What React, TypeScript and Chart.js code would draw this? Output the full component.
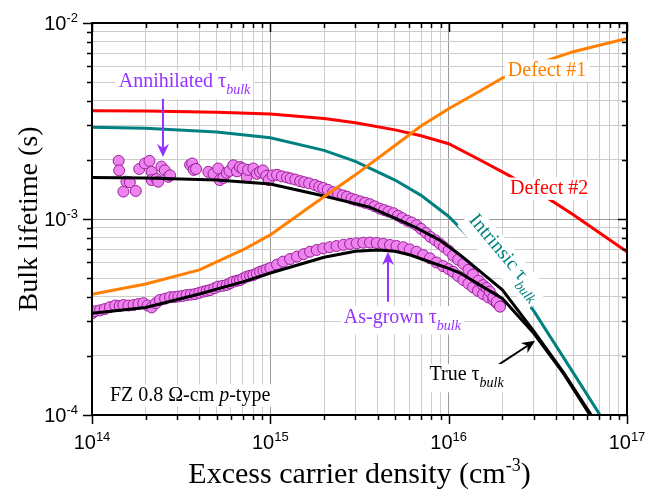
import React, { useEffect, useRef } from 'react';
import { Chart, registerables } from 'chart.js';

Chart.register(...registerables);

const SERIF = '"Liberation Serif", "Times New Roman", Times, serif';
const SANS = '"Liberation Sans", Arial, Helvetica, sans-serif';

const X_MIN = 1e14;
const X_MAX = 1e17;
const Y_MIN = 1e-4;
const Y_MAX = 1e-2;

const xTickExponents = ['14', '15', '16', '17'];
const yTickExponents = ['-4', '-3', '-2'];

// Defect #1 (orange)
const defect1X = [1e14, 2e14, 4e14, 7e14, 1e15, 1.5e15, 2e15, 3e15, 5e15, 7e15, 1e16, 1.5e16, 2e16, 3e16, 5e16, 7e16, 1e17];
const defect1Y = [4.13e-4, 4.66e-4, 5.5e-4, 6.95e-4, 8.3e-4, 1.08e-3, 1.3e-3, 1.68e-3, 2.37e-3, 2.98e-3, 3.65e-3, 4.5e-3, 5.24e-3, 6.12e-3, 7.14e-3, 7.7e-3, 8.35e-3];

// Defect #2 (red)
const defect2X = [1e14, 2e14, 5e14, 1e15, 2e15, 3e15, 5e15, 7e15, 1e16, 1.5e16, 2e16, 3e16, 5e16, 7e16, 1e17];
const defect2Y = [3.57e-3, 3.56e-3, 3.5e-3, 3.43e-3, 3.26e-3, 3.1e-3, 2.85e-3, 2.66e-3, 2.42e-3, 2.0e-3, 1.74e-3, 1.42e-3, 1.05e-3, 8.5e-4, 6.8e-4];

// Intrinsic tau bulk (teal)
const intrinsicX = [1e14, 2e14, 5e14, 1e15, 2e15, 3e15, 5e15, 7e15, 1e16, 1.5e16, 2e16, 3e16, 5e16, 7.06e16];
const intrinsicY = [2.94e-3, 2.9e-3, 2.78e-3, 2.6e-3, 2.24e-3, 1.97e-3, 1.58e-3, 1.32e-3, 1.03e-3, 7.1e-4, 5.4e-4, 3.4e-4, 1.64e-4, 1.0e-4];

// True tau bulk fit, annihilated state (black, upper)
const trueUpperX = [1e14, 2e14, 5e14, 1e15, 2e15, 3.6e15, 5e15, 6.6e15, 8.9e15, 1.16e16, 1.5e16, 2e16, 3e16, 4.4e16, 6.3e16];
const trueUpperY = [1.63e-3, 1.62e-3, 1.58e-3, 1.51e-3, 1.31e-3, 1.15e-3, 1.01e-3, 9.0e-4, 7.8e-4, 6.55e-4, 5.4e-4, 4.35e-4, 2.68e-4, 1.65e-4, 1.0e-4];

// True tau bulk fit, as-grown state (black, lower)
const trueLowerX = [1e14, 2e14, 4e14, 7e14, 1e15, 2e15, 3e15, 4e15, 5e15, 6.1e15, 8e15, 1e16, 1.16e16, 1.5e16, 2e16, 3e16, 4.4e16, 6.2e16];
const trueLowerY = [3.3e-4, 3.54e-4, 4.14e-4, 4.78e-4, 5.3e-4, 6.38e-4, 6.85e-4, 6.95e-4, 6.85e-4, 6.55e-4, 6.0e-4, 5.6e-4, 5.3e-4, 4.6e-4, 3.93e-4, 2.61e-4, 1.63e-4, 1.0e-4];

// Annihilated tau bulk measurements (markers)
const annihilatedX = [
  1.41e14, 1.42e14, 1.50e14, 1.56e14, 1.63e14, 1.76e14, 1.84e14, 1.98e14, 2.10e14, 2.16e14, 2.16e14, 2.30e14, 2.35e14, 2.45e14, 2.56e14, 2.68e14, 2.74e14,
  3.55e14, 3.65e14, 3.72e14, 3.83e14,
  4.49e14, 4.8e14, 5.1e14, 5.2e14, 5.45e14, 5.69e14, 5.9e14, 6.2e14, 6.5e14, 6.76e14, 7.0e14, 7.37e14, 7.5e14, 8.03e14, 8.4e14, 8.75e14, 9.1e14, 9.5e14, 9.8e14,
  1.03e15, 1.09e15, 1.16e15, 1.24e15, 1.3e15, 1.38e15, 1.47e15, 1.55e15, 1.65e15, 1.78e15, 1.88e15, 1.98e15,
  2.1e15, 2.25e15, 2.4e15, 2.55e15, 2.69e15, 2.85e15, 3.0e15, 3.2e15, 3.4e15, 3.62e15, 3.85e15,
  4.1e15, 4.35e15, 4.6e15, 4.9e15, 5.2e15, 5.5e15, 5.85e15, 6.2e15, 6.6e15,
  7.0e15, 7.45e15, 7.9e15, 8.4e15, 8.9e15, 9.4e15,
  1.0e16, 1.06e16, 1.13e16, 1.21e16, 1.29e16, 1.37e16, 1.47e16, 1.56e16, 1.63e16, 1.7e16, 1.78e16, 1.86e16, 1.94e16,
];
const annihilatedY = [
  1.98e-3, 1.77e-3, 1.38e-3, 1.55e-3, 1.54e-3, 1.39e-3, 1.80e-3, 1.92e-3, 1.98e-3, 1.74e-3, 1.58e-3, 1.60e-3, 1.55e-3, 1.85e-3, 1.77e-3, 1.64e-3, 1.67e-3,
  1.89e-3, 1.92e-3, 1.78e-3, 1.80e-3,
  1.74e-3, 1.70e-3, 1.81e-3, 1.58e-3, 1.62e-3, 1.72e-3, 1.76e-3, 1.88e-3, 1.75e-3, 1.84e-3, 1.81e-3, 1.64e-3, 1.78e-3, 1.81e-3, 1.70e-3, 1.74e-3, 1.77e-3, 1.66e-3, 1.58e-3,
  1.67e-3, 1.68e-3, 1.65e-3, 1.63e-3, 1.61e-3, 1.59e-3, 1.56e-3, 1.54e-3, 1.52e-3, 1.49e-3, 1.46e-3, 1.44e-3,
  1.41e-3, 1.37e-3, 1.34e-3, 1.32e-3, 1.30e-3, 1.27e-3, 1.25e-3, 1.23e-3, 1.21e-3, 1.19e-3, 1.16e-3,
  1.13e-3, 1.11e-3, 1.09e-3, 1.07e-3, 1.04e-3, 1.01e-3, 9.8e-4, 9.6e-4, 9.3e-4,
  8.9e-4, 8.5e-4, 8.1e-4, 7.8e-4, 7.5e-4, 7.2e-4,
  6.9e-4, 6.5e-4, 6.2e-4, 5.9e-4, 5.5e-4, 5.2e-4, 4.85e-4, 4.6e-4, 4.45e-4, 4.26e-4, 4.0e-4, 3.78e-4, 3.57e-4,
];

// As-grown tau bulk measurements (markers)
const asGrownX = [
  1.0e14, 1.04e14, 1.11e14, 1.18e14, 1.26e14, 1.35e14, 1.43e14, 1.50e14, 1.60e14, 1.71e14, 1.82e14, 1.94e14,
  2.05e14, 2.16e14, 2.28e14, 2.40e14, 2.57e14, 2.74e14, 2.90e14, 3.05e14, 3.22e14, 3.39e14, 3.58e14, 3.78e14,
  4.0e14, 4.21e14, 4.4e14, 4.59e14, 4.85e14, 5.1e14, 5.4e14, 5.69e14, 5.95e14, 6.2e14, 6.5e14, 6.76e14,
  7.05e14, 7.37e14, 7.7e14, 8.03e14, 8.4e14, 8.75e14, 9.15e14, 9.55e14,
  1.0e15, 1.09e15, 1.18e15, 1.29e15, 1.41e15, 1.54e15, 1.67e15, 1.82e15, 1.98e15,
  2.15e15, 2.35e15, 2.57e15, 2.8e15, 3.05e15, 3.32e15, 3.62e15, 3.95e15,
  4.3e15, 4.69e15, 5.1e15, 5.57e15, 6.05e15, 6.6e15, 7.2e15, 7.85e15, 8.55e15, 9.3e15,
  1.0e16, 1.06e16, 1.13e16, 1.21e16, 1.29e16, 1.37e16, 1.46e16, 1.56e16, 1.67e16, 1.78e16, 1.86e16, 1.94e16,
];
const asGrownY = [
  3.30e-4, 3.38e-4, 3.42e-4, 3.47e-4, 3.55e-4, 3.62e-4, 3.60e-4, 3.64e-4, 3.62e-4, 3.64e-4, 3.68e-4, 3.72e-4,
  3.62e-4, 3.54e-4, 3.72e-4, 3.86e-4, 3.92e-4, 3.99e-4, 4.00e-4, 4.02e-4, 4.05e-4, 4.09e-4, 4.11e-4, 4.14e-4,
  4.20e-4, 4.26e-4, 4.30e-4, 4.34e-4, 4.43e-4, 4.52e-4, 4.56e-4, 4.61e-4, 4.70e-4, 4.79e-4, 4.84e-4, 4.88e-4,
  4.98e-4, 5.08e-4, 5.13e-4, 5.18e-4, 5.28e-4, 5.38e-4, 5.45e-4, 5.53e-4,
  5.62e-4, 5.85e-4, 6.06e-4, 6.25e-4, 6.43e-4, 6.62e-4, 6.81e-4, 6.95e-4, 7.08e-4,
  7.18e-4, 7.28e-4, 7.38e-4, 7.46e-4, 7.52e-4, 7.57e-4, 7.58e-4, 7.55e-4,
  7.47e-4, 7.37e-4, 7.28e-4, 7.18e-4, 7.0e-4, 6.81e-4, 6.55e-4, 6.3e-4, 6.0e-4, 5.75e-4,
  5.55e-4, 5.38e-4, 5.12e-4, 4.88e-4, 4.68e-4, 4.48e-4, 4.30e-4, 4.14e-4, 3.98e-4, 3.86e-4, 3.72e-4, 3.60e-4,
];

const COLORS = {
  orange: '#ff8000',
  red: '#ff0000',
  teal: '#008080',
  black: '#000000',
  purple: '#9632ff',
  markerFill: '#ee82ee',
  markerEdge: '#99209a',
  gridMajor: '#999999',
  gridMinor: '#cdcdcd',
};

type Run = { t: string; s?: 'it' | 'sub' | 'sup' };
type Label = { runs: Run[]; x: number; y: number; color: string; align: 'left' | 'center'; rot?: number; middle?: boolean };
type Arrow = { x1: number; y1: number; x2: number; y2: number; color: string };

const labels: Label[] = [
  { runs: [{ t: 'Annihilated τ' }, { t: 'bulk', s: 'sub' }], x: 3.3e14, y: 4.71e-3, color: COLORS.purple, align: 'center' },
  { runs: [{ t: 'As-grown τ' }, { t: 'bulk', s: 'sub' }], x: 5.5e15, y: 2.96e-4, color: COLORS.purple, align: 'center' },
  { runs: [{ t: 'Defect #1' }], x: 3.56e16, y: 5.37e-3, color: COLORS.orange, align: 'center' },
  { runs: [{ t: 'Defect #2' }], x: 3.66e16, y: 1.34e-3, color: COLORS.red, align: 'center' },
  { runs: [{ t: 'Intrinsic τ' }, { t: 'bulk', s: 'sub' }], x: 2.1e16, y: 6.47e-4, color: COLORS.teal, align: 'center', rot: 50, middle: true },
  { runs: [{ t: 'True τ' }, { t: 'bulk', s: 'sub' }], x: 1.26e16, y: 1.5e-4, color: COLORS.black, align: 'center' },
  { runs: [{ t: 'FZ 0.8 Ω-cm ' }, { t: 'p', s: 'it' }, { t: '-type' }], x: 1.26e14, y: 1.18e-4, color: COLORS.black, align: 'left' },
];

const arrows: Arrow[] = [
  { x1: 2.5e14, y1: 4.3e-3, x2: 2.5e14, y2: 2.07e-3, color: COLORS.purple },
  { x1: 4.57e15, y1: 3.78e-4, x2: 4.57e15, y2: 6.79e-4, color: COLORS.purple },
  { x1: 1.79e16, y1: 1.74e-4, x2: 3.05e16, y2: 2.39e-4, color: COLORS.black },
];

function buildLogTicks(lo: number, hi: number): number[] {
  const out: number[] = [];
  for (let d = lo; d < hi; d++) {
    for (let m = 1; m <= 9; m++) out.push(m * Math.pow(10, d));
  }
  out.push(Math.pow(10, hi));
  return out;
}

function isMajor(v: number): boolean {
  const l = Math.log10(v);
  return Math.abs(l - Math.round(l)) < 1e-6;
}

const xTicks = buildLogTicks(Math.round(Math.log10(X_MIN)), Math.round(Math.log10(X_MAX)));
const yTicks = buildLogTicks(Math.round(Math.log10(Y_MIN)), Math.round(Math.log10(Y_MAX)));

function drawRuns(ctx: CanvasRenderingContext2D, runs: Run[], x: number, y: number, color: string, align: 'left' | 'center', rot = 0, middle = false, size = 20, bg = true) {
  ctx.save();
  ctx.translate(x, y);
  if (rot) ctx.rotate((rot * Math.PI) / 180);
  const parts = runs.map((r) => {
    const sub = r.s === 'sub';
    const sup = r.s === 'sup';
    const it = r.s === 'it' || sub;
    const sz = sub ? size * 0.7 : sup ? size * 0.6 : size;
    const font = `${it ? 'italic ' : ''}${sz}px ${SERIF}`;
    ctx.font = font;
    return { t: r.t, font, w: ctx.measureText(r.t).width, dy: sub ? size * 0.35 : sup ? -size * 0.4 : 0 };
  });
  const W = parts.reduce((a, p) => a + p.w, 0);
  const hasSub = parts.some((p) => p.dy > 0);
  let cx = align === 'center' ? -W / 2 : 0;
  const by = middle ? size * 0.3 : 0;
  if (bg) {
    const top = by - size * 0.78;
    const bot = by + size * 0.24 + (hasSub ? size * 0.3 : 0);
    ctx.fillStyle = '#ffffff';
    ctx.fillRect(cx - 3, top - 1, W + 6, bot - top + 2);
  }
  ctx.fillStyle = color;
  ctx.textAlign = 'left';
  ctx.textBaseline = 'alphabetic';
  for (const p of parts) {
    ctx.font = p.font;
    ctx.fillText(p.t, cx, by + p.dy);
    cx += p.w;
  }
  ctx.restore();
}

function drawArrow(ctx: CanvasRenderingContext2D, x1: number, y1: number, x2: number, y2: number, color: string) {
  const head = 13;
  const hw = 6;
  const ang = Math.atan2(y2 - y1, x2 - x1);
  const c = Math.cos(ang);
  const s = Math.sin(ang);
  const bx = x2 - head * c;
  const by = y2 - head * s;
  ctx.save();
  ctx.strokeStyle = color;
  ctx.fillStyle = color;
  ctx.lineWidth = 2;
  ctx.beginPath();
  ctx.moveTo(x1, y1);
  ctx.lineTo(bx + 4 * c, by + 4 * s);
  ctx.stroke();
  ctx.beginPath();
  ctx.moveTo(x2, y2);
  ctx.lineTo(bx + hw * s, by - hw * c);
  ctx.lineTo(bx + 4 * c, by + 4 * s);
  ctx.lineTo(bx - hw * s, by + hw * c);
  ctx.closePath();
  ctx.fill();
  ctx.restore();
}

const decorPlugin = {
  id: 'decor',
  afterDatasetsDraw(chart: any) {
    const ctx: CanvasRenderingContext2D = chart.ctx;
    const xs = chart.scales.x;
    const ys = chart.scales.y;
    for (const a of arrows) {
      drawArrow(ctx, xs.getPixelForValue(a.x1), ys.getPixelForValue(a.y1), xs.getPixelForValue(a.x2), ys.getPixelForValue(a.y2), a.color);
    }
    for (const l of labels) {
      drawRuns(ctx, l.runs, xs.getPixelForValue(l.x), ys.getPixelForValue(l.y), l.color, l.align, l.rot || 0, !!l.middle);
    }
  },
  afterDraw(chart: any) {
    const ctx: CanvasRenderingContext2D = chart.ctx;
    const { left, right, top, bottom } = chart.chartArea;
    const xs = chart.scales.x;
    const ys = chart.scales.y;
    ctx.save();
    // tick marks
    ctx.strokeStyle = '#000';
    ctx.lineWidth = 1.5;
    ctx.beginPath();
    for (const v of xTicks) {
      const px = Math.round(xs.getPixelForValue(v)) + 0.5;
      const len = isMajor(v) ? 9 : 5;
      ctx.moveTo(px, bottom);
      ctx.lineTo(px, bottom + len);
      ctx.moveTo(px, top);
      ctx.lineTo(px, top + len);
    }
    for (const v of yTicks) {
      const py = Math.round(ys.getPixelForValue(v)) + 0.5;
      const len = isMajor(v) ? 9 : 5;
      ctx.moveTo(left, py);
      ctx.lineTo(left - len, py);
      ctx.moveTo(right, py);
      ctx.lineTo(right - len, py);
    }
    ctx.stroke();
    // frame
    ctx.lineWidth = 2;
    ctx.strokeRect(left, top, right - left, bottom - top);

    // tick labels
    ctx.fillStyle = '#000';
    ctx.textAlign = 'left';
    ctx.textBaseline = 'alphabetic';
    for (const e of xTickExponents) {
      const px = xs.getPixelForValue(Math.pow(10, Number(e)));
      ctx.font = `20px ${SANS}`;
      const w1 = ctx.measureText('10').width;
      ctx.font = `13px ${SANS}`;
      const w2 = ctx.measureText(e).width;
      const start = px - (w1 + w2) / 2;
      ctx.font = `20px ${SANS}`;
      ctx.fillText('10', start, bottom + 34);
      ctx.font = `13px ${SANS}`;
      ctx.fillText(e, start + w1, bottom + 26);
    }
    for (const e of yTickExponents) {
      const py = ys.getPixelForValue(Math.pow(10, Number(e)));
      ctx.font = `20px ${SANS}`;
      const w1 = ctx.measureText('10').width;
      ctx.font = `13px ${SANS}`;
      const w2 = ctx.measureText(e).width;
      const start = left - 14 - (w1 + w2);
      ctx.font = `20px ${SANS}`;
      ctx.fillText('10', start, py + 7);
      ctx.font = `13px ${SANS}`;
      ctx.fillText(e, start + w1, py - 1);
    }

    // axis titles
    const xsize = 30;
    ctx.font = `${xsize}px ${SERIF}`;
    const xt1 = 'Excess carrier density (cm';
    const xt2 = '-3';
    const xt3 = ')';
    const w1 = ctx.measureText(xt1).width;
    const w3 = ctx.measureText(xt3).width;
    ctx.font = `${xsize * 0.6}px ${SERIF}`;
    const w2 = ctx.measureText(xt2).width;
    const cx = (left + right) / 2;
    let sx = cx - (w1 + w2 + w3) / 2;
    const base = bottom + 68;
    ctx.font = `${xsize}px ${SERIF}`;
    ctx.fillText(xt1, sx, base);
    sx += w1;
    ctx.font = `${xsize * 0.6}px ${SERIF}`;
    ctx.fillText(xt2, sx, base - 12);
    sx += w2;
    ctx.font = `${xsize}px ${SERIF}`;
    ctx.fillText(xt3, sx, base);

    ctx.save();
    ctx.translate(left - 55, (top + bottom) / 2);
    ctx.rotate(-Math.PI / 2);
    ctx.textAlign = 'center';
    ctx.font = `28px ${SERIF}`;
    ctx.fillText('Bulk lifetime (s)', 0, 0);
    ctx.restore();

    ctx.restore();
  },
};

function pts(xs: number[], ys: number[]) {
  return xs.map((x, i) => ({ x, y: ys[i] }));
}

export default function App() {
  const ref = useRef<HTMLCanvasElement>(null);

  useEffect(() => {
    const canvas = ref.current;
    if (!canvas) return;
    const gridColor = (c: any) => {
      const v = c.tick ? c.tick.value : 0;
      return v && isMajor(v) ? COLORS.gridMajor : COLORS.gridMinor;
    };
    const lineDs = (label: string, xs: number[], ys: number[], color: string, width: number) => ({
      label,
      data: pts(xs, ys),
      showLine: true,
      borderColor: color,
      backgroundColor: color,
      borderWidth: width,
      pointRadius: 0,
      pointHoverRadius: 0,
      tension: 0,
      clip: 0,
      order: 1,
    });
    const markerDs = (label: string, xs: number[], ys: number[], order: number) => ({
      label,
      data: pts(xs, ys),
      showLine: false,
      pointRadius: 5.5,
      pointHoverRadius: 5.5,
      pointBackgroundColor: COLORS.markerFill,
      pointBorderColor: COLORS.markerEdge,
      pointBorderWidth: 1,
      clip: 0,
      order,
    });

    const chart = new Chart(canvas, {
      type: 'scatter',
      data: {
        datasets: [
          lineDs('Defect #1', defect1X, defect1Y, COLORS.orange, 3),
          lineDs('Defect #2', defect2X, defect2Y, COLORS.red, 3),
          lineDs('Intrinsic τbulk', intrinsicX, intrinsicY, COLORS.teal, 3),
          lineDs('True τbulk (annihilated)', trueUpperX, trueUpperY, COLORS.black, 3),
          lineDs('True τbulk (as-grown)', trueLowerX, trueLowerY, COLORS.black, 3),
          markerDs('Annihilated τbulk', annihilatedX, annihilatedY, 9),
          markerDs('As-grown τbulk', asGrownX, asGrownY, 10),
        ] as any,
      },
      options: {
        animation: false,
        responsive: false,
        devicePixelRatio: 1,
        layout: { padding: { left: 92, right: 30, top: 23, bottom: 81 } },
        plugins: { legend: { display: false }, tooltip: { enabled: false } },
        events: [],
        scales: {
          x: {
            type: 'logarithmic',
            position: 'bottom',
            min: X_MIN,
            max: X_MAX,
            afterBuildTicks: (s: any) => {
              s.ticks = xTicks.map((v) => ({ value: v }));
            },
            afterFit: (s: any) => {
              s.height = 0;
            },
            ticks: { display: false },
            grid: { color: gridColor, lineWidth: 1, drawTicks: false },
            border: { display: false },
          },
          y: {
            type: 'logarithmic',
            position: 'left',
            min: Y_MIN,
            max: Y_MAX,
            afterBuildTicks: (s: any) => {
              s.ticks = yTicks.map((v) => ({ value: v }));
            },
            afterFit: (s: any) => {
              s.width = 0;
            },
            ticks: { display: false },
            grid: { color: gridColor, lineWidth: 1, drawTicks: false },
            border: { display: false },
          },
        },
      } as any,
      plugins: [decorPlugin],
    });
    return () => chart.destroy();
  }, []);

  return (
    <div style={{ position: 'fixed', left: 0, top: 0, width: 657, height: 496, background: '#ffffff' }}>
      <canvas ref={ref} width={657} height={496} style={{ display: 'block', width: 657, height: 496 }} />
    </div>
  );
}
